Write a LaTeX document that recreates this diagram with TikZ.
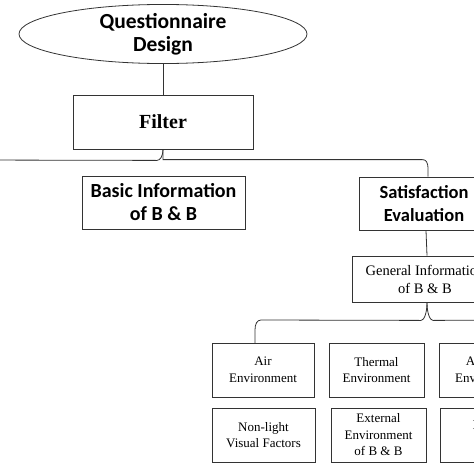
\documentclass[tikz,border=0pt]{standalone}
\usepackage{fontspec}
\setmainfont{Liberation Serif}
\newfontfamily\calfont{Carlito}
\usetikzlibrary{shapes.geometric,positioning}
\tikzset{
  box/.style={draw,rectangle,align=center,inner sep=1pt,
    font=\fontsize{13}{16.5}\selectfont},
  headbox/.style={box,font=\calfont\bfseries\fontsize{20}{23}\selectfont},
}
\begin{document}
\begin{tikzpicture}[x=1pt,y=-1pt,line width=0.8pt,draw=black!80]
  \useasboundingbox (0,0) rectangle (474,474);

  \path (163,34) node[ellipse,draw,minimum width=288pt,minimum height=53pt,inner sep=0pt,
    align=center,font=\calfont\bfseries\fontsize{21.5}{23}\selectfont] (design) {Questionnaire\\Design};
  \path (163,122) node[box,minimum width=180pt,minimum height=54pt,
    font=\bfseries\fontsize{20}{22}\selectfont] (filter) {Filter};

  \path (163.5,202.5) node[headbox,minimum width=163pt,minimum height=53pt] (basic) {Basic Information\\of B \& B};
  \path (424,203.5) node[headbox,minimum width=130pt,minimum height=53pt,
    font=\calfont\bfseries\fontsize{18.5}{23}\selectfont] (satis) {Satisfaction\\Evaluation};
  \path (425,279) node[box,minimum width=146pt,minimum height=46pt,
    font=\fontsize{14.5}{18}\selectfont] (general) {General Information\\of B \& B};

  % factors
  \path (263,370) node[box,minimum width=102pt,minimum height=54pt] (air) {Air\\Environment};
  \path (376.5,370) node[box,minimum width=95pt,minimum height=54pt] (thermal) {Thermal\\Environment};
  \path (489,370) node[box,minimum width=100pt,minimum height=54pt] (acoustic) {Acoustic\\Environment};
  \path (263.5,435) node[box,minimum width=103pt,minimum height=54pt] (nonlight) {Non-light\\Visual Factors};
  \path (378.5,435) node[box,minimum width=95pt,minimum height=54pt] (external) {External\\Environment\\of B \& B};
  \path (490,435) node[box,minimum width=100pt,minimum height=54pt] (indoor) {Indoor\\Space};

  \coordinate (leftend) at (-30,160);
  \coordinate (rightend) at (520,320);

  \draw (design) -- (filter);
  \draw ([xshift=4pt]satis.north) -- ++(0,-7) .. controls +(0,-8) and +(4,0) .. ++(-6,-10) -| (filter.south);
  \draw (filter.south) .. controls +(0,7) and +(3,0) .. ++(-6,11) -- (leftend);
  \draw ([xshift=2pt]satis.south) -- ([xshift=2pt]general.north);
  \draw ([xshift=2pt]general.south) .. controls +(0,11) and +(-3,0) .. ++(6,18) -- (rightend);
  \draw ([xshift=2pt]general.south) .. controls +(0,11) and +(3,0) .. ++(-6,18) -- (261,320)
    .. controls (257,320) and (255,324) .. (255,330) -- (255,343);
\end{tikzpicture}
\end{document}
